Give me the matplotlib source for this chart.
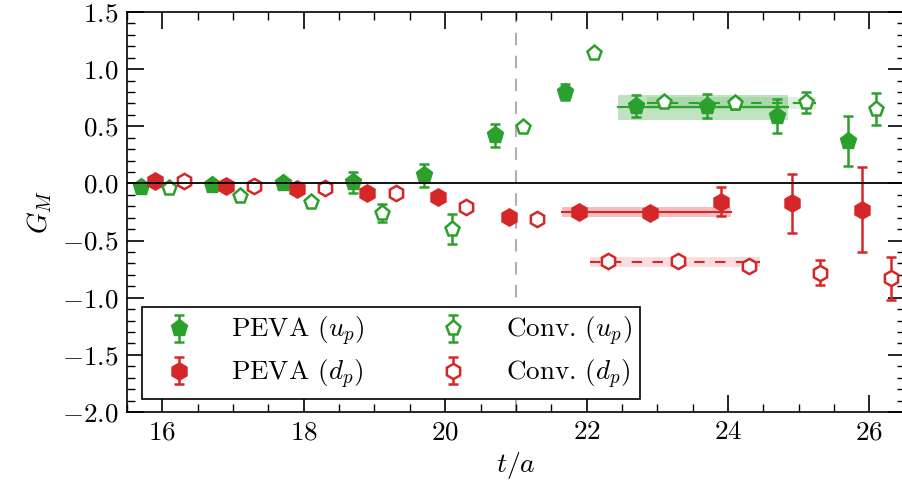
import matplotlib
matplotlib.use("Agg")
import matplotlib.pyplot as plt
import numpy as np
from matplotlib.ticker import MultipleLocator

plt.rcParams['font.family'] = ['cmr10', 'DejaVu Serif']
plt.rcParams['mathtext.fontset'] = 'cm'
plt.rcParams['axes.formatter.use_mathtext'] = True
plt.rcParams['axes.unicode_minus'] = True

# time slices
t = [16, 17, 18, 19, 20, 21, 22, 23, 24, 25, 26]

peva_up = [-0.03, -0.01, 0.00, 0.01, 0.07, 0.42, 0.80, 0.68, 0.68, 0.59, 0.37]
peva_up_err = [0.02, 0.02, 0.02, 0.09, 0.10, 0.10, 0.07, 0.095, 0.105, 0.15, 0.22]

peva_dp = [0.02, -0.02, -0.05, -0.08, -0.12, -0.29, -0.25, -0.26, -0.16, -0.175, -0.23]
peva_dp_err = [0.01, 0.01, 0.01, 0.01, 0.01, 0.01, 0.02, 0.02, 0.125, 0.26, 0.37]

conv_up = [-0.04, -0.11, -0.16, -0.26, -0.40, 0.49, 1.14, 0.71, 0.70, 0.71, 0.655]
conv_up_err = [0.01, 0.01, 0.02, 0.08, 0.13, 0.01, 0.01, 0.03, 0.05, 0.09, 0.14]

conv_dp = [0.02, -0.02, -0.04, -0.085, -0.21, -0.31, -0.68, -0.68, -0.72, -0.78, -0.83]
conv_dp_err = [0.01, 0.01, 0.01, 0.01, 0.01, 0.01, 0.02, 0.02, 0.04, 0.11, 0.19]

# plateau fits: (t start, t end, value, error)
fit_peva_up = (22.45, 24.85, 0.665, 0.107)
fit_conv_up = (22.85, 25.25, 0.703, 0.052)
fit_peva_dp = (21.65, 24.05, -0.248, 0.045)
fit_conv_dp = (22.05, 24.45, -0.686, 0.044)

t_cut = 21

green = '#2ca02c'
red = '#d62728'

fig = plt.figure(figsize=(9.03, 4.86), dpi=100)
ax = fig.add_axes([127 / 903, 74 / 486, 777.7 / 903, 400 / 486])

tt = np.array(t, dtype=float)

def plateau(fit, color, ls, alpha):
    lo, hi, v, e = fit
    ax.fill_between([lo, hi], [v - e] * 2, [v + e] * 2, color=color, alpha=alpha, lw=0, zorder=1)
    ax.plot([lo, hi], [v, v], color=color, ls=ls, lw=1.5, dashes=(5, 5) if ls == '--' else (None, None), zorder=2)

plateau(fit_peva_up, green, '-', 0.3)
plateau(fit_conv_up, green, '--', 0.15)
plateau(fit_peva_dp, red, '-', 0.3)
plateau(fit_conv_dp, red, '--', 0.15)

ax.axhline(0, color='black', lw=1.3, zorder=5)
ax.axvline(t_cut, color='#b0b0b0', lw=1.5, ls=(0, (6, 5)), zorder=0.5)

eb = dict(capsize=3.6, elinewidth=1.8, capthick=1.8, ls='none', zorder=3)
ax.errorbar(tt - 0.3, peva_up, yerr=peva_up_err, fmt='p', color=green, ms=12.5,
            mec=green, label=r'PEVA $(u_p)$', **eb)
ax.errorbar(tt - 0.1, peva_dp, yerr=peva_dp_err, fmt='h', color=red, ms=12.5,
            mec=red, label=r'PEVA $(d_p)$', **eb)
ax.errorbar(tt + 0.1, conv_up, yerr=conv_up_err, fmt='p', color=green, ms=11,
            mfc='white', mec=green, mew=1.8, label=r'Conv. $(u_p)$', **eb)
ax.errorbar(tt + 0.3, conv_dp, yerr=conv_dp_err, fmt='h', color=red, ms=11,
            mfc='white', mec=red, mew=1.8, label=r'Conv. $(d_p)$', **eb)

ax.set_xlim(15.5, 26.5)
ax.set_ylim(-2.0, 1.5)
ax.xaxis.set_major_locator(MultipleLocator(2))
ax.xaxis.set_minor_locator(MultipleLocator(0.5))
ax.yaxis.set_major_locator(MultipleLocator(0.5))
ax.yaxis.set_minor_locator(MultipleLocator(0.1))
ax.tick_params(which='both', direction='in', top=True, right=True, labelsize=19.5)
ax.tick_params(which='major', length=12, width=1.2, pad=6)
ax.tick_params(which='minor', length=6, width=1.0)
for s in ax.spines.values():
    s.set_linewidth(1.2)

ax.set_xlabel(r'$t/a$', fontsize=20, labelpad=4)
ax.set_ylabel(r'$G_M$', fontsize=20, labelpad=6)

leg = ax.legend(ncol=2, loc='lower left', bbox_to_anchor=(0.019, 0.0325), fontsize=19.5,
                fancybox=False, framealpha=1, edgecolor='black', borderaxespad=0,
                handlelength=2.14, columnspacing=2.2, labelspacing=0.35, handletextpad=0.86,
                borderpad=0.3)
leg.get_frame().set_linewidth(1.2)

fig.savefig('out.png', dpi=100)
